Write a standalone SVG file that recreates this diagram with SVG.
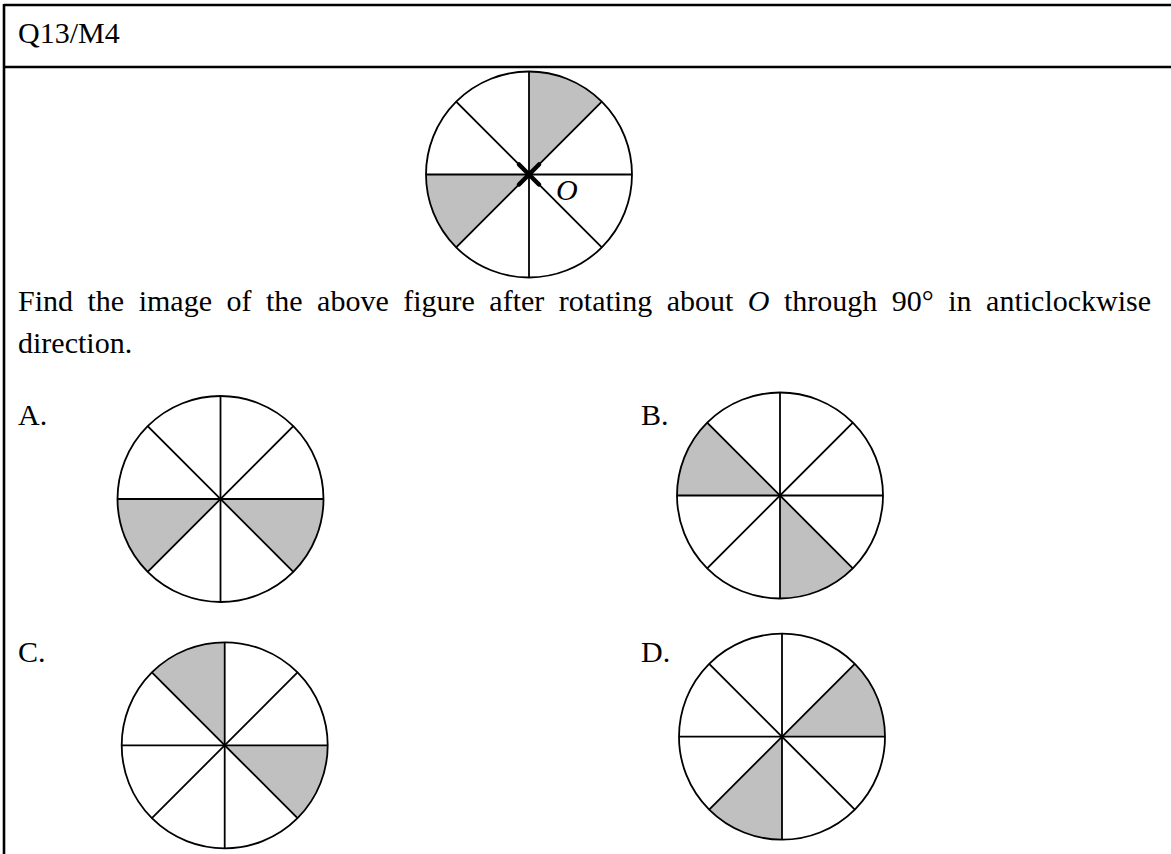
<svg xmlns="http://www.w3.org/2000/svg" width="1171" height="854" viewBox="0 0 1171 854">
<style>
.frame{stroke:#000;stroke-width:2.6;fill:none}
.c{fill:none;stroke:#000;stroke-width:1.8}
.sp{stroke:#000;stroke-width:1.8}
.sh{fill:#c0c0c0;stroke:none}
.t{font-family:"Liberation Serif","Times New Roman",serif;font-size:30px;fill:#000}
</style>
<defs>
<g id="spokes">
<line class="sp" x1="0" y1="-103" x2="0" y2="103"/>
<line class="sp" x1="-103" y1="0" x2="103" y2="0"/>
<line class="sp" x1="-72.83" y1="-72.83" x2="72.83" y2="72.83"/>
<line class="sp" x1="-72.83" y1="72.83" x2="72.83" y2="-72.83"/>
<circle class="c" cx="0" cy="0" r="103"/>
</g>
</defs>
<rect width="1171" height="854" fill="#fff"/>
<g id="frame">
<line class="frame" x1="4" y1="5" x2="1171" y2="5"/>
<line class="frame" x1="4" y1="67" x2="1171" y2="67"/>
<line class="frame" x1="4" y1="4" x2="4" y2="854"/>
</g>
<g id="header"><text class="t" x="18" y="43">Q13/M4</text></g>
<g id="figure" transform="translate(529,174.5)">
<path class="sh" d="M0,0 L0,-103 A103,103 0 0 1 72.83,-72.83 Z"/>
<path class="sh" d="M0,0 L-103,0 A103,103 0 0 0 -72.83,72.83 Z"/>
<use href="#spokes"/>
<line x1="-10" y1="-10" x2="10" y2="10" stroke="#000" stroke-width="4.5" stroke-linecap="round"/>
<line x1="-10" y1="10" x2="10" y2="-10" stroke="#000" stroke-width="4.5" stroke-linecap="round"/>
<text class="t" x="27" y="25.5" font-size="27" font-style="italic">O</text>
</g>
<g id="question">
<text class="t" x="18" y="311" word-spacing="7">Find the image of the above figure after rotating about <tspan font-style="italic">O</tspan> through 90° in anticlockwise</text>
<text class="t" x="18" y="353">direction.</text>
</g>
<g id="optA">
<text class="t" x="18" y="425">A.</text>
<g transform="translate(220.5,499)">
<path class="sh" d="M0,0 L-103,0 A103,103 0 0 0 -72.83,72.83 Z"/>
<path class="sh" d="M0,0 L103,0 A103,103 0 0 1 72.83,72.83 Z"/>
<use href="#spokes"/>
</g>
</g>
<g id="optB">
<text class="t" x="641" y="425">B.</text>
<g transform="translate(780,495.5)">
<path class="sh" d="M0,0 L-72.83,-72.83 A103,103 0 0 0 -103,0 Z"/>
<path class="sh" d="M0,0 L0,103 A103,103 0 0 0 72.83,72.83 Z"/>
<use href="#spokes"/>
</g>
</g>
<g id="optC">
<text class="t" x="18" y="662">C.</text>
<g transform="translate(224.7,745.3)">
<path class="sh" d="M0,0 L0,-103 A103,103 0 0 0 -72.83,-72.83 Z"/>
<path class="sh" d="M0,0 L103,0 A103,103 0 0 1 72.83,72.83 Z"/>
<use href="#spokes"/>
</g>
</g>
<g id="optD">
<text class="t" x="641" y="662">D.</text>
<g transform="translate(782,736.7)">
<path class="sh" d="M0,0 L72.83,-72.83 A103,103 0 0 1 103,0 Z"/>
<path class="sh" d="M0,0 L-72.83,72.83 A103,103 0 0 0 0,103 Z"/>
<use href="#spokes"/>
</g>
</g>
</svg>
